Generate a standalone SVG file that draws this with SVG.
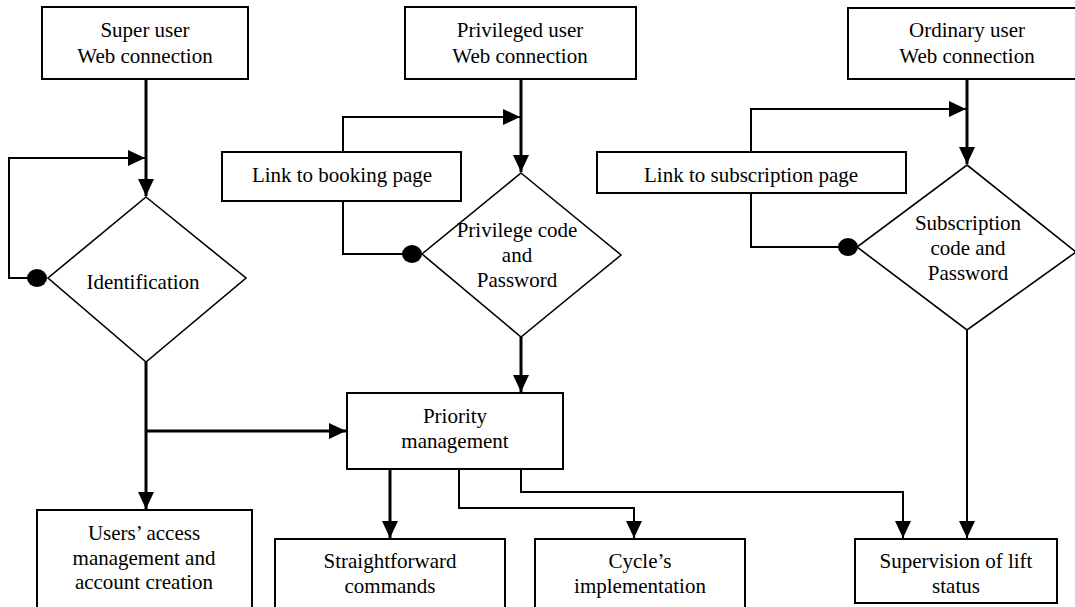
<svg xmlns="http://www.w3.org/2000/svg" width="1075" height="607" viewBox="0 0 1075 607">
<style>
text{font-family:"Liberation Serif","Times New Roman",serif;font-size:21px;fill:#000;text-anchor:middle}
.box{fill:#fff;stroke:#000;stroke-width:2}
.dia{fill:#fff;stroke:#000;stroke-width:1.6}
.thick{fill:none;stroke:#000;stroke-width:3}
.thin{fill:none;stroke:#000;stroke-width:2}
.dot{fill:#000}
</style>
<defs>
<marker id="ah" markerUnits="userSpaceOnUse" markerWidth="18" markerHeight="16" refX="17" refY="8" orient="auto">
<path d="M0,0 L17,8 L0,16 z" fill="#000"/>
</marker>
</defs>
<rect width="1075" height="607" fill="#fff"/>
<g id="connectors">
<path class="thick" d="M146,79 V196" marker-end="url(#ah)"/>
<path class="thin" d="M37,278 H9 V158 H145" marker-end="url(#ah)"/>
<path class="thick" d="M521,79 V172" marker-end="url(#ah)"/>
<path class="thin" d="M343,152 V117 H520" marker-end="url(#ah)"/>
<path class="thin" d="M343,201 V254 H412"/>
<path class="thick" d="M967,79 V164" marker-end="url(#ah)"/>
<path class="thin" d="M751,152 V109 H966" marker-end="url(#ah)"/>
<path class="thin" d="M751,193 V247 H848"/>
<path class="thick" d="M146,362 V509" marker-end="url(#ah)"/>
<path class="thick" d="M146,431 H346" marker-end="url(#ah)"/>
<path class="thick" d="M521,337 V392" marker-end="url(#ah)"/>
<path class="thick" d="M390,469 V538" marker-end="url(#ah)"/>
<path class="thin" d="M459,469 V508 H634 V538" marker-end="url(#ah)"/>
<path class="thin" d="M521,469 V492 H903 V538" marker-end="url(#ah)"/>
<path class="thin" d="M967,330 V538" marker-end="url(#ah)"/>
<ellipse class="dot" cx="37" cy="278" rx="10" ry="9"/>
<ellipse class="dot" cx="412" cy="254" rx="10" ry="9"/>
<ellipse class="dot" cx="848" cy="247" rx="10" ry="9"/>
</g>
<g id="super-user">
<rect class="box" x="42" y="7" width="206" height="72"/>
<text x="145" y="37">Super user</text>
<text x="145" y="63">Web connection</text>
</g>
<g id="privileged-user">
<rect class="box" x="405" y="7" width="231" height="72"/>
<text x="520" y="37">Privileged user</text>
<text x="520" y="63">Web connection</text>
</g>
<g id="ordinary-user">
<rect class="box" x="848" y="8" width="230" height="71"/>
<text x="967" y="37">Ordinary user</text>
<text x="967" y="63">Web connection</text>
</g>
<g id="booking-link">
<rect class="box" x="222" y="152" width="239" height="49"/>
<text x="342" y="182">Link to booking page</text>
</g>
<g id="subscription-link">
<rect class="box" x="597" y="152" width="309" height="41"/>
<text x="751" y="182">Link to subscription page</text>
</g>
<g id="identification">
<polygon class="dia" points="146,197 246,278 146,362 48,278"/>
<text x="143" y="289">Identification</text>
</g>
<g id="privilege-code">
<polygon class="dia" points="521,173 621,255 521,337 422,254"/>
<text x="517" y="237">Privilege code</text>
<text x="517" y="262">and</text>
<text x="517" y="287">Password</text>
</g>
<g id="subscription-code">
<polygon class="dia" points="967,165 1076,252 967,330 857,247"/>
<text x="968" y="230">Subscription</text>
<text x="968" y="255">code and</text>
<text x="968" y="280">Password</text>
</g>
<g id="priority">
<rect class="box" x="347" y="393" width="216" height="76"/>
<text x="455" y="423">Priority</text>
<text x="455" y="448">management</text>
</g>
<g id="users-access">
<rect class="box" x="37" y="510" width="215" height="102"/>
<text x="144" y="540">Users’ access</text>
<text x="144" y="565">management and</text>
<text x="144" y="589">account creation</text>
</g>
<g id="straightforward">
<rect class="box" x="275" y="539" width="230" height="73"/>
<text x="390" y="568">Straightforward</text>
<text x="390" y="593">commands</text>
</g>
<g id="cycle">
<rect class="box" x="535" y="539" width="210" height="73"/>
<text x="640" y="568">Cycle’s</text>
<text x="640" y="593">implementation</text>
</g>
<g id="supervision">
<rect class="box" x="855" y="539" width="202" height="64"/>
<text x="956" y="568">Supervision of lift</text>
<text x="956" y="593">status</text>
</g>
</svg>
